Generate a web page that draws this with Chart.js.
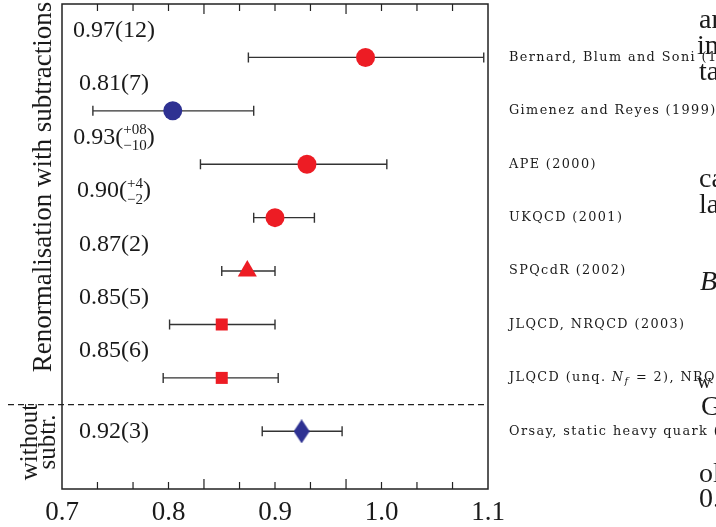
<!DOCTYPE html>
<html lang="en">
<head>
<meta charset="UTF-8" />
<title>B parameter results</title>
<script src="https://cdn.jsdelivr.net/npm/chart.js"></script>
<style>
  html, body { margin: 0; padding: 0; background: #fff; }
</style>
</head>
<body>
<canvas id="chart" width="716" height="527"></canvas>
<script>
// one row per calculation, top to bottom
const rows = [1, 2, 3, 4, 5, 6, 7, 8];
const groups = [
    'Bernard, Blum and Soni (1998)',
    'Gimenez and Reyes (1999)',
    'APE (2000)',
    'UKQCD (2001)',
    'SPQcdR (2002)',
    'JLQCD, NRQCD (2003)',
    'JLQCD (unq. N_f = 2), NRQCD (2003)',
    'Orsay, static heavy quark (2003)'
];
const centres = [0.985, 0.804, 0.930, 0.900, 0.874, 0.850, 0.850, 0.925];
const lowEnds = [0.875, 0.729, 0.830, 0.880, 0.850, 0.801, 0.795, 0.888];
const highEnds = [1.096, 0.880, 1.005, 0.937, 0.900, 0.900, 0.903, 0.963];
const results = ['0.97(12)', '0.81(7)', '0.93', '0.90', '0.87(2)', '0.85(5)', '0.85(6)', '0.92(3)'];
const resultsUp = [null, null, '+08', '+4', null, null, null, null];
const resultsDown = [null, null, '\u221210', '\u22122', null, null, null, null];
const markers = ['circle', 'circle', 'circle', 'circle', 'triangle', 'rect', 'rect', 'diamond'];
const colours = ['red', 'blue', 'red', 'red', 'red', 'red', 'red', 'blue'];
const xTicks = [0.7, 0.7333, 0.7667, 0.8, 0.8333, 0.8667, 0.9, 0.9333, 0.9667, 1.0, 1.0333, 1.0667, 1.1];
const xTickLabels = ['0.7', '', '', '0.8', '', '', '0.9', '', '', '1.0', '', '', '1.1'];

const RED = '#ed1c24';
const BLUE = '#2e3192';
const INK = '#1a1a1a';
const SERIF = '"Liberation Serif", "DejaVu Serif", serif';
const WIDE = '"DejaVu Serif", serif';

// tall diamond for the Orsay point
const diamond = document.createElement('canvas');
diamond.width = 16;
diamond.height = 24;
(function () {
    const c = diamond.getContext('2d');
    c.fillStyle = BLUE;
    c.beginPath();
    c.moveTo(8, 0);
    c.lineTo(16, 12);
    c.lineTo(8, 24);
    c.lineTo(0, 12);
    c.closePath();
    c.fill();
})();

const errorBars = {
    id: 'errorBars',
    beforeDatasetsDraw(chart) {
        const { ctx, scales: { x, y } } = chart;
        ctx.save();
        ctx.strokeStyle = '#333';
        ctx.lineWidth = 1.4;
        rows.forEach((r, i) => {
            const py = y.getPixelForValue(r);
            const xl = x.getPixelForValue(lowEnds[i]);
            const xh = x.getPixelForValue(highEnds[i]);
            ctx.beginPath();
            ctx.moveTo(xl, py); ctx.lineTo(xh, py);
            ctx.moveTo(xl, py - 5); ctx.lineTo(xl, py + 5);
            ctx.moveTo(xh, py - 5); ctx.lineTo(xh, py + 5);
            ctx.stroke();
        });
        ctx.restore();
    }
};

const decorations = {
    id: 'decorations',
    afterDraw(chart) {
        const { ctx, chartArea: a, scales: { x, y } } = chart;
        ctx.save();

        // frame and inward ticks
        ctx.strokeStyle = '#222';
        ctx.lineWidth = 1.5;
        ctx.strokeRect(a.left, a.top, a.right - a.left, a.bottom - a.top);
        ctx.lineWidth = 1.2;
        xTicks.forEach((v, i) => {
            if (i === 0 || i === xTicks.length - 1) return;
            const px = x.getPixelForValue(v);
            const len = i % 4 === 0 ? 10 : 7;
            ctx.beginPath();
            ctx.moveTo(px, a.top); ctx.lineTo(px, a.top + len);
            ctx.moveTo(px, a.bottom); ctx.lineTo(px, a.bottom - len);
            ctx.stroke();
        });

        // separator between the two groups
        const sep = y.getPixelForValue(7.5);
        ctx.setLineDash([6, 4]);
        ctx.lineWidth = 1.2;
        ctx.beginPath();
        ctx.moveTo(8, sep); ctx.lineTo(a.right, sep);
        ctx.stroke();
        ctx.setLineDash([]);

        // results written above each point
        ctx.fillStyle = INK;
        ctx.textBaseline = 'middle';
        const cx = a.left + 52;
        results.forEach((t, i) => {
            const row = i < 7 ? rows[i] - 0.5 : rows[i];
            const py = y.getPixelForValue(row);
            ctx.font = '24px ' + SERIF;
            if (!resultsUp[i]) {
                ctx.textAlign = 'center';
                ctx.fillText(t, cx, py);
                return;
            }
            const main = t + '(';
            const wMain = ctx.measureText(main).width;
            const wClose = ctx.measureText(')').width;
            ctx.font = '15px ' + SERIF;
            const wScr = Math.max(ctx.measureText(resultsUp[i]).width, ctx.measureText(resultsDown[i]).width);
            let sx = cx - (wMain + wScr + wClose) / 2;
            ctx.textAlign = 'left';
            ctx.font = '24px ' + SERIF;
            ctx.fillText(main, sx, py);
            ctx.font = '15px ' + SERIF;
            ctx.textAlign = 'center';
            ctx.fillText(resultsUp[i], sx + wMain + wScr / 2, py - 7);
            ctx.fillText(resultsDown[i], sx + wMain + wScr / 2, py + 9);
            ctx.textAlign = 'left';
            ctx.font = '24px ' + SERIF;
            ctx.fillText(')', sx + wMain + wScr, py);
        });

        // collaboration names to the right of the frame (wide small type)
        ctx.textAlign = 'left';
        ctx.letterSpacing = '1.4px';
        groups.forEach((g, i) => {
            const py = y.getPixelForValue(rows[i]);
            let gx = a.right + 21;
            const parts = g.split('N_f');
            ctx.font = '12.8px ' + WIDE;
            ctx.fillText(parts[0], gx, py);
            if (parts.length > 1) {
                gx += ctx.measureText(parts[0]).width;
                ctx.font = 'italic 12.8px ' + WIDE;
                ctx.fillText('N', gx, py);
                gx += ctx.measureText('N').width;
                ctx.font = 'italic 9.8px ' + WIDE;
                ctx.fillText('f', gx, py + 4);
                gx += ctx.measureText('f').width + 1;
                ctx.font = '12.8px ' + WIDE;
                ctx.fillText(parts[1], gx, py);
            }
        });
        ctx.letterSpacing = '0px';

        // group titles on the left
        ctx.textAlign = 'center';
        ctx.textBaseline = 'alphabetic';
        ctx.save();
        ctx.translate(51, 187);
        ctx.rotate(-Math.PI / 2);
        ctx.font = '27px ' + SERIF;
        ctx.fillText('Renormalisation with subtractions', 0, 0);
        ctx.restore();
        ctx.save();
        ctx.translate(37, 442);
        ctx.rotate(-Math.PI / 2);
        ctx.font = '25px ' + SERIF;
        ctx.fillText('without', 0, 0);
        ctx.fillText('subtr.', 0, 18);
        ctx.restore();

        // running text of the page, cut by the right edge
        ctx.textAlign = 'left';
        ctx.font = '28px ' + SERIF;
        [['ar', 699, 28], ['in', 697, 54], ['ta', 699, 80], ['ca', 699, 187], ['la', 699, 213],
         ['G', 701, 415], ['ol', 699, 482], ['0.', 699, 507]].forEach(([t, tx, ty]) => ctx.fillText(t, tx, ty));
        ctx.font = 'italic 28px ' + SERIF;
        ctx.fillText('B', 700, 290);
        ctx.font = '20px ' + SERIF;
        ctx.fillText('w', 697, 388);
        ctx.restore();
    }
};

new Chart(document.getElementById('chart'), {
    type: 'scatter',
    data: {
        datasets: [{
            data: rows.map((r, i) => ({ x: centres[i], y: r })),
            pointStyle: markers.map(m => (m === 'diamond' ? diamond : m)),
            pointRadius: markers.map(m => (m === 'triangle' ? 11 : m === 'rect' ? 8.5 : 9.5)),
            backgroundColor: colours.map(c => (c === 'red' ? RED : BLUE)),
            borderWidth: 0
        }]
    },
    options: {
        responsive: false,
        animation: false,
        layout: { autoPadding: false, padding: { left: 62, right: 228, top: 4, bottom: 0 } },
        plugins: { legend: { display: false }, tooltip: { enabled: false } },
        scales: {
            x: {
                type: 'linear',
                min: 0.7,
                max: 1.1,
                afterBuildTicks: s => { s.ticks = xTicks.map(v => ({ value: v })); },
                afterFit: s => { s.height = 38; },
                ticks: {
                    autoSkip: false,
                    maxRotation: 0,
                    padding: 8,
                    color: INK,
                    font: { family: SERIF, size: 27 },
                    callback: (v, i) => xTickLabels[i]
                },
                grid: { display: false, drawTicks: false },
                border: { display: false }
            },
            y: {
                type: 'linear',
                min: 0,
                max: 9.08,
                reverse: true,
                display: false
            }
        }
    },
    plugins: [errorBars, decorations]
});
</script>
</body>
</html>
